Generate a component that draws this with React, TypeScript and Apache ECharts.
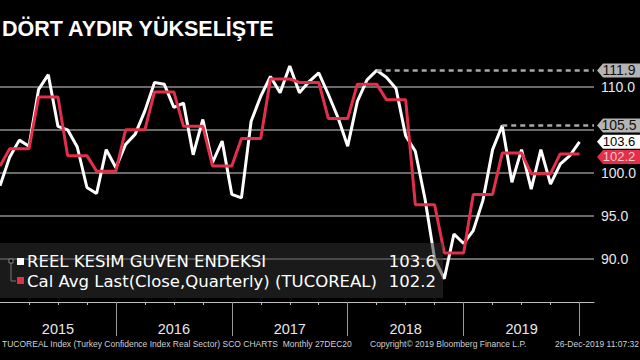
import React, { useEffect, useRef } from 'react';
import * as echarts from 'echarts';

const titleText = 'DÖRT AYDIR YÜKSELİŞTE';
const years = ['2015', '2016', '2017', '2018', '2019'];
// Monthly index values, index 0 = Dec 2014 ... index 60 = Dec 2019
const indexValues = [
  98.5,
  101.8, 103.8, 103.1, 109.7, 111.4, 105.4, 105.0, 103.0, 98.3, 97.6, 102.7, 100.6,
  103.3, 104.5, 107.2, 110.5, 110.3, 107.6, 108.1, 102.1, 106.2, 101.2, 103.7, 97.5,
  97.1, 106.0, 108.9, 111.2, 109.3, 112.4, 109.3, 110.6, 111.6, 109.1, 106.4, 103.1,
  108.3, 110.8, 111.9, 111.1, 109.8, 104.3, 102.5, 97.0, 90.0, 87.7, 92.9, 91.8,
  93.3, 96.8, 102.7, 105.5, 98.9, 102.7, 98.1, 102.7, 98.7, 101.0, 102.0, 103.6,
];
// Quarterly calendar averages, Q4 2014 ... Q4 2019
const quarterlyAvg = [
  100.8,
  102.8, 108.8, 102.0, 100.2,
  105.0, 109.4, 105.4, 100.8,
  104.0, 110.9, 110.5, 106.3,
  110.3, 108.5, 96.3, 90.7,
  97.5, 102.3, 99.9, 102.2,
];
const seriesNames = ['REEL KESIM GUVEN ENDEKSI', 'Cal Avg Last(Close,Quarterly) (TUCOREAL)'];
const yLabelValues = [90, 95, 100, 110];
const highSince = [37, 49]; // Jan 2018, Jan 2019
const footerLeft = 'TUCOREAL Index (Turkey Confidence Index Real Sector) SCO CHARTS  Monthly 27DEC20';
const footerMid = 'Copyright\u00a9 2019 Bloomberg Finance L.P.';
const footerRight = '26-Dec-2019 11:07:32';

const WHITE = '#ffffff';
const RED = '#e3304a';
const X_MAX = 61.5;
const FONT = 'Liberation Sans, Arial, sans-serif';
const LFONT = 'DejaVu Sans, sans-serif';
const TAG_PATH = 'path://M0,7L6,0L46,0L46,14L6,14Z';

function maxFrom(start: number) {
  let bi = start;
  for (let i = start; i < indexValues.length; i++) if (indexValues[i] > indexValues[bi]) bi = i;
  return bi;
}

export default function App() {
  const ref = useRef<HTMLDivElement>(null);
  useEffect(() => {
    document.body.style.margin = '0';
    const chart = echarts.init(ref.current!, null, { renderer: 'svg' });
    const whiteData = indexValues.map((v, i) => [i, v]);
    const redData = indexValues.map((_, i) => [i, quarterlyAvg[Math.ceil(i / 3)]]);
    const lastI = indexValues.length - 1;
    const lastW = indexValues[lastI];
    const lastR = quarterlyAvg[quarterlyAvg.length - 1];

    const tag = (v: number, bg: string, fg: string, dy: number, fs: number) => ({
      coord: [X_MAX, v],
      symbol: TAG_PATH,
      symbolSize: [46, 14],
      symbolOffset: [26, dy],
      itemStyle: { color: bg },
      label: {
        show: true,
        position: 'inside',
        offset: [-1, 0],
        formatter: v.toFixed(1),
        color: fg,
        fontSize: fs,
        fontFamily: FONT,
      },
    });

    const highIdx = highSince.map((s) => maxFrom(s));
    const highLines = highIdx.map((i) => {
      const v = indexValues[i];
      return [
        { coord: [i, v], lineStyle: { color: '#a8a8a8', width: 2.5, type: [5, 4] } },
        { coord: [X_MAX, v] },
      ];
    });

    const quarterTicks: number[] = [];
    for (let m = 3; m <= 60; m += 3) quarterTicks.push(m);
    const yearTicks: number[] = [];
    for (let m = 12; m <= 60; m += 12) yearTicks.push(m);
    const yearLabelPos = years.map((_, k) => 6 + 12 * k);

    const option: any = {
      animation: false,
      backgroundColor: '#000',
      title: {
        text: titleText,
        left: 2,
        top: 18,
        padding: 0,
        textStyle: { color: '#fff', fontSize: 21.5, fontWeight: 'bold', fontFamily: FONT },
      },
      grid: { left: 0, right: 46, top: 43.7, bottom: 58, containLabel: false, outerBoundsMode: 'none' },
      xAxis: [
        {
          type: 'value',
          min: 0,
          max: X_MAX,
          position: 'bottom',
          axisLine: { show: true, lineStyle: { color: '#bdbdbd', width: 1 } },
          axisTick: { show: true, length: 3, customValues: quarterTicks, lineStyle: { color: '#bdbdbd' } },
          axisLabel: {
            show: true,
            customValues: yearLabelPos,
            formatter: (v: number) => years[Math.round((v - 6) / 12)] ?? '',
            color: '#e8e8e8',
            fontSize: 14.5,
            fontFamily: FONT,
            margin: 19,
          },
          splitLine: { show: false },
        },
        {
          type: 'value',
          min: 0,
          max: X_MAX,
          position: 'bottom',
          axisLine: { show: false },
          axisTick: { show: true, length: 34, customValues: yearTicks, lineStyle: { color: '#9a9a9a', width: 1 } },
          axisLabel: { show: false },
          splitLine: { show: false },
        },
      ],
      yAxis: {
        type: 'value',
        position: 'right',
        min: 85,
        max: 115,
        interval: 5,
        axisLine: { show: false },
        axisTick: { show: false },
        axisLabel: {
          color: '#e8e8e8',
          fontSize: 14,
          fontFamily: FONT,
          margin: 7,
          formatter: (v: number) => (yLabelValues.includes(v) ? v.toFixed(1) : ''),
        },
        splitLine: {
          show: true,
          showMinLine: false,
          showMaxLine: false,
          lineStyle: { color: '#8e8e8e', width: 1.5 },
        },
      },
      series: [
        {
          name: seriesNames[0],
          type: 'line',
          data: whiteData,
          showSymbol: false,
          symbol: 'none',
          clip: false,
          lineStyle: { color: WHITE, width: 3 },
          z: 2,
          markLine: {
            silent: true,
            symbol: ['none', 'none'],
            label: { show: false },
            data: highLines,
          },
          markPoint: {
            silent: true,
            data: [
              ...highIdx.map((i) => tag(indexValues[i], '#b4b4b4', '#111', 0, 14)),
              tag(lastW, '#ffffff', '#000', 0, 13),
            ],
          },
        },
        {
          name: seriesNames[1],
          type: 'line',
          data: redData,
          showSymbol: false,
          symbol: 'none',
          clip: false,
          lineStyle: { color: RED, width: 3 },
          z: 3,
          markPoint: {
            silent: true,
            data: [tag(lastR, RED, '#f6c9d0', 3, 13)],
          },
        },
      ],
      graphic: [
        {
          type: 'group',
          z: 100,
          children: [
            { type: 'rect', shape: { x: 0, y: 243, width: 443, height: 55 }, style: { fill: 'rgba(48,48,48,0.55)' }, z: 100 },
            { type: 'polyline', shape: { points: [[11, 262], [11, 281], [16, 281]] }, style: { stroke: '#777', lineWidth: 1, fill: 'none' }, z: 101 },
            { type: 'rect', shape: { x: 9, y: 259, width: 4, height: 4 }, style: { stroke: '#888', lineWidth: 1, fill: '#000' }, z: 101 },
            { type: 'rect', shape: { x: 17, y: 258, width: 7, height: 7 }, style: { fill: WHITE }, z: 101 },
            { type: 'rect', shape: { x: 17, y: 277, width: 7, height: 7 }, style: { fill: RED }, z: 101 },
            { type: 'text', x: 27, y: 261.5, style: { text: seriesNames[0], fill: '#fff', fontSize: 16.5, fontFamily: LFONT, verticalAlign: 'middle' }, z: 101 },
            { type: 'text', x: 27, y: 281.5, style: { text: seriesNames[1], fill: '#fff', fontSize: 16.5, fontFamily: LFONT, verticalAlign: 'middle' }, z: 101 },
            { type: 'text', x: 436, y: 261.5, style: { text: lastW.toFixed(1), fill: '#fff', fontSize: 16.5, fontFamily: LFONT, verticalAlign: 'middle', align: 'right' }, z: 101 },
            { type: 'text', x: 436, y: 281.5, style: { text: lastR.toFixed(1), fill: '#fff', fontSize: 16.5, fontFamily: LFONT, verticalAlign: 'middle', align: 'right' }, z: 101 },
          ],
        },
        { type: 'text', x: 2, y: 344, style: { text: footerLeft, fill: '#d0d0d0', fontSize: 8.5, fontFamily: FONT, verticalAlign: 'middle' } },
        { type: 'text', x: 370, y: 344, style: { text: footerMid, fill: '#d0d0d0', fontSize: 8.5, fontFamily: FONT, verticalAlign: 'middle' } },
        { type: 'text', x: 639, y: 344, style: { text: footerRight, fill: '#d0d0d0', fontSize: 8.5, fontFamily: FONT, verticalAlign: 'middle', align: 'right' } },
      ],
    };
    chart.setOption(option);
    return () => chart.dispose();
  }, []);
  return <div ref={ref} style={{ position: 'fixed', left: 0, top: 0, width: 640, height: 360, background: '#000' }} />;
}
